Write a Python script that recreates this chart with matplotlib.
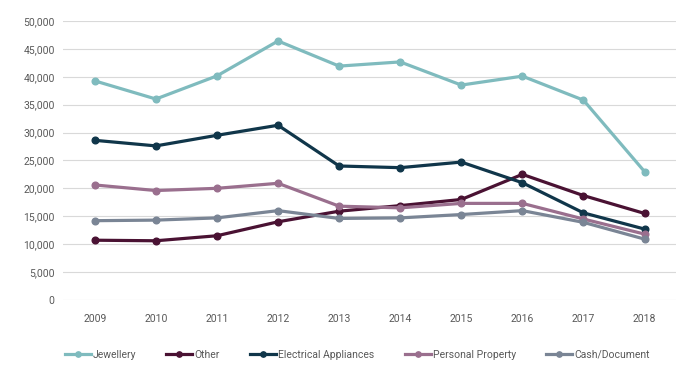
import matplotlib.pyplot as plt

years = ["2009", "2010", "2011", "2012", "2013", "2014", "2015", "2016", "2017", "2018"]

jewellery = [39250, 36000, 40150, 46400, 41900, 42650, 38500, 40100, 35800, 23000]
other = [10700, 10600, 11500, 14000, 15900, 16900, 18000, 22500, 18700, 15500]
electrical = [28600, 27600, 29500, 31300, 24000, 23700, 24700, 21000, 15600, 12700]
personal = [20600, 19600, 20000, 20900, 16800, 16500, 17300, 17300, 14500, 11800]
cash = [14200, 14300, 14700, 16000, 14600, 14700, 15300, 16000, 13900, 10900]

series = [
    ("Jewellery", jewellery, "#7fbbbe"),
    ("Other", other, "#4a1233"),
    ("Electrical Appliances", electrical, "#10364a"),
    ("Personal Property", personal, "#9a6f8e"),
    ("Cash/Document", cash, "#7a8595"),
]

plt.rcParams['font.family'] = ['Roboto', 'DejaVu Sans']

fig = plt.figure(figsize=(6.93, 3.87), dpi=100)
ax = fig.add_axes([0.091, 0.225, 0.884, 0.721])

x = list(range(len(years)))
for name, vals, color in series:
    ax.plot(x, vals, '-o', color=color, linewidth=2.3, markersize=4.8, label=name)

ax.set_xlim(-0.52, 9.51)
ax.set_ylim(0, 50000)
ax.set_yticks(range(0, 50001, 5000))
ax.set_yticklabels([f"{v:,}" for v in range(0, 50001, 5000)])
ax.set_xticks(x)
ax.set_xticklabels(years)

ax.grid(axis='y', color='#d9d9d9', linewidth=0.8)
ax.set_axisbelow(True)
for s in ax.spines.values():
    s.set_visible(False)
ax.tick_params(length=0, labelsize=7.5, labelcolor='#595959')
ax.tick_params(axis='x', pad=10)
ax.tick_params(axis='y', pad=6)

# legend sits under the axis, all in one row
ax.legend(loc='upper center', bbox_to_anchor=(0.48, -0.145), ncol=5, frameon=False,
          fontsize=7.5, labelcolor='#595959', handlelength=2.5, handletextpad=0.2,
          columnspacing=2.9, markerscale=0.8)

fig.savefig("out.png", dpi=100)
